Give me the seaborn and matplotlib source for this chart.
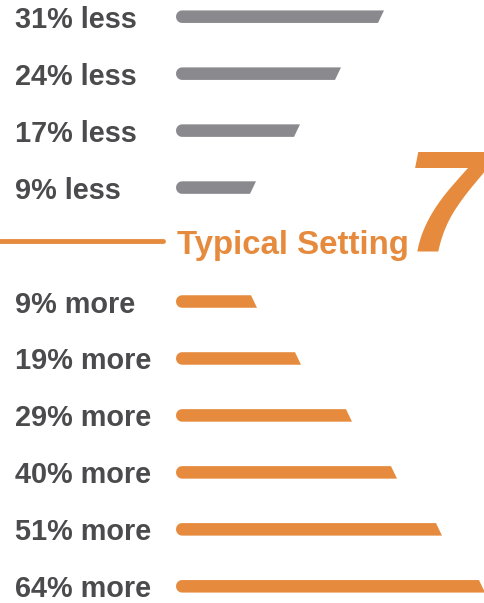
import numpy as np
import pandas as pd
import seaborn as sns
import matplotlib.pyplot as plt
from matplotlib.patches import Polygon

# Rows of the graphic, top to bottom
labels = ["31% less", "24% less", "17% less", "9% less", "Typical Setting",
          "9% more", "19% more", "29% more", "40% more", "51% more", "64% more"]
# bar lengths as drawn in the graphic (not to scale with the %)
bar_len = [205, 162, 121, 77, 0, 78, 122, 173, 218, 263, 306]
group = ["less"] * 4 + ["typical"] + ["more"] * 6
big_number = "7"

GRAY = "#8a898e"
ORANGE = "#e68b3e"
TEXT = "#4b4b4d"

df = pd.DataFrame({"label": labels, "length": bar_len, "group": group})

sns.set_theme(style="white")
plt.rcParams["font.family"] = ["Liberation Sans", "DejaVu Sans"]

fig = plt.figure(figsize=(4.84, 6.03), dpi=100)
ax = fig.add_axes([0, 0, 1, 1])

sns.barplot(data=df, y="label", x="length", hue="group", orient="h",
            palette={"less": GRAY, "typical": ORANGE, "more": ORANGE},
            width=0.22, dodge=False, saturation=1, legend=False, ax=ax)

# x axis in pixel-ish units, bars start 176px from the left
ax.set_xlim(-176, 308)
ax.set_ylim(10.293, -0.293)
ax.axis("off")

# reshape bars: rounded left end and slanted right end
for p in list(ax.patches):
    x0, y0, w, h = p.get_x(), p.get_y(), p.get_width(), p.get_height()
    if w <= 0:
        p.remove()
        continue
    idx = int(round(y0 + h / 2))
    col = p.get_facecolor()
    s = 3 if df["group"].iloc[idx] == "less" else -3
    t = np.linspace(np.pi / 2, 3 * np.pi / 2, 12)
    rx = 6
    cap = np.column_stack([x0 + rx + rx * np.cos(t), y0 + h / 2 - (h / 2) * np.sin(t)])
    pts = np.vstack([[[x0 + rx, y0]], [[x0 + w + s, y0]], [[x0 + w - s, y0 + h]],
                     [[x0 + rx, y0 + h]], cap[::-1][1:-1]])
    p.remove()
    ax.add_patch(Polygon(pts, closed=True, facecolor=col, edgecolor="none"))

# row labels
for i, lab in enumerate(labels):
    if df["group"].iloc[i] == "typical":
        ax.text(1, i - 0.05, lab, ha="left", va="center_baseline", color=ORANGE,
                fontsize=23.8, fontweight="bold")
    else:
        ax.text(-161, i, lab, ha="left", va="center_baseline", color=TEXT,
                fontsize=20.8, fontweight="bold")

# orange rule for the typical setting row
ax.axhline(labels.index("Typical Setting") - 0.07, xmin=0, xmax=163 / 484, color=ORANGE, lw=3.5)

# big setting number
ax.text(229, labels.index("Typical Setting") + 0.1, big_number, ha="left", va="baseline",
        color=ORANGE, fontsize=104, fontweight="bold", fontstyle="italic")

fig.savefig("out.png", dpi=100)
